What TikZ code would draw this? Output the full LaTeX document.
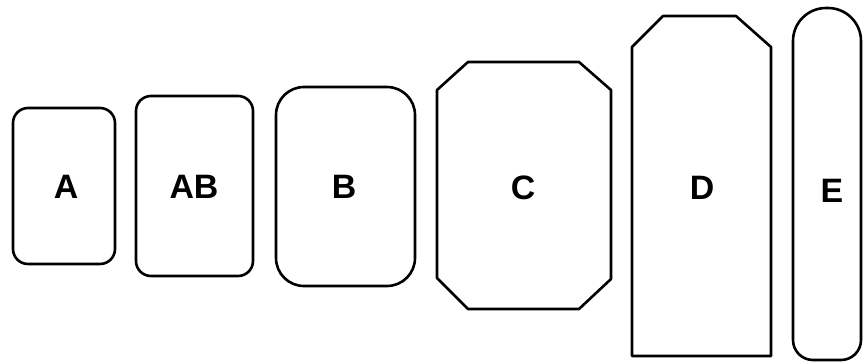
\documentclass[tikz,border=0pt]{standalone}
\usepackage{fontspec}
\setmainfont{Liberation Sans}
\begin{document}
\begin{tikzpicture}[x=1bp,y=-1bp,
  shapeline/.style={draw=black,line width=2.6bp,line join=round},
  lbl/.style={font=\fontsize{34}{34}\selectfont\bfseries,inner sep=0pt,anchor=center}]
\useasboundingbox[fill=white] (0,0) rectangle (867,363);
% A
\draw[shapeline,rounded corners=15bp] (13,108) rectangle (115,264);
\node[lbl] (a) at (66,187) {A};
% AB
\draw[shapeline,rounded corners=15bp] (136,96) rectangle (253,276);
\node[lbl] (ab) at (194,187) {AB};
% B
\draw[shapeline,rounded corners=28bp] (276,87) rectangle (415,286);
\node[lbl] (b) at (344,187) {B};
% C
\draw[shapeline] (468,62) -- (579,62) -- (611,90) -- (611,279) -- (579,309) -- (468,309) -- (437,278) -- (437,90) -- cycle;
\node[lbl] (c) at (523,188) {C};
% D
\draw[shapeline] (663,16) -- (736,16) -- (771,47) -- (771,356) -- (632,356) -- (632,47) -- cycle;
\node[lbl] (d) at (702,188) {D};
% E
\draw[shapeline,rounded corners=33bp] (793,200) -- (793,8) -- (861,8) -- (861,200) [rounded corners=20bp] -- (861,360) -- (793,360) -- cycle;
\node[lbl] (e) at (832,191) {E};
\end{tikzpicture}
\end{document}
